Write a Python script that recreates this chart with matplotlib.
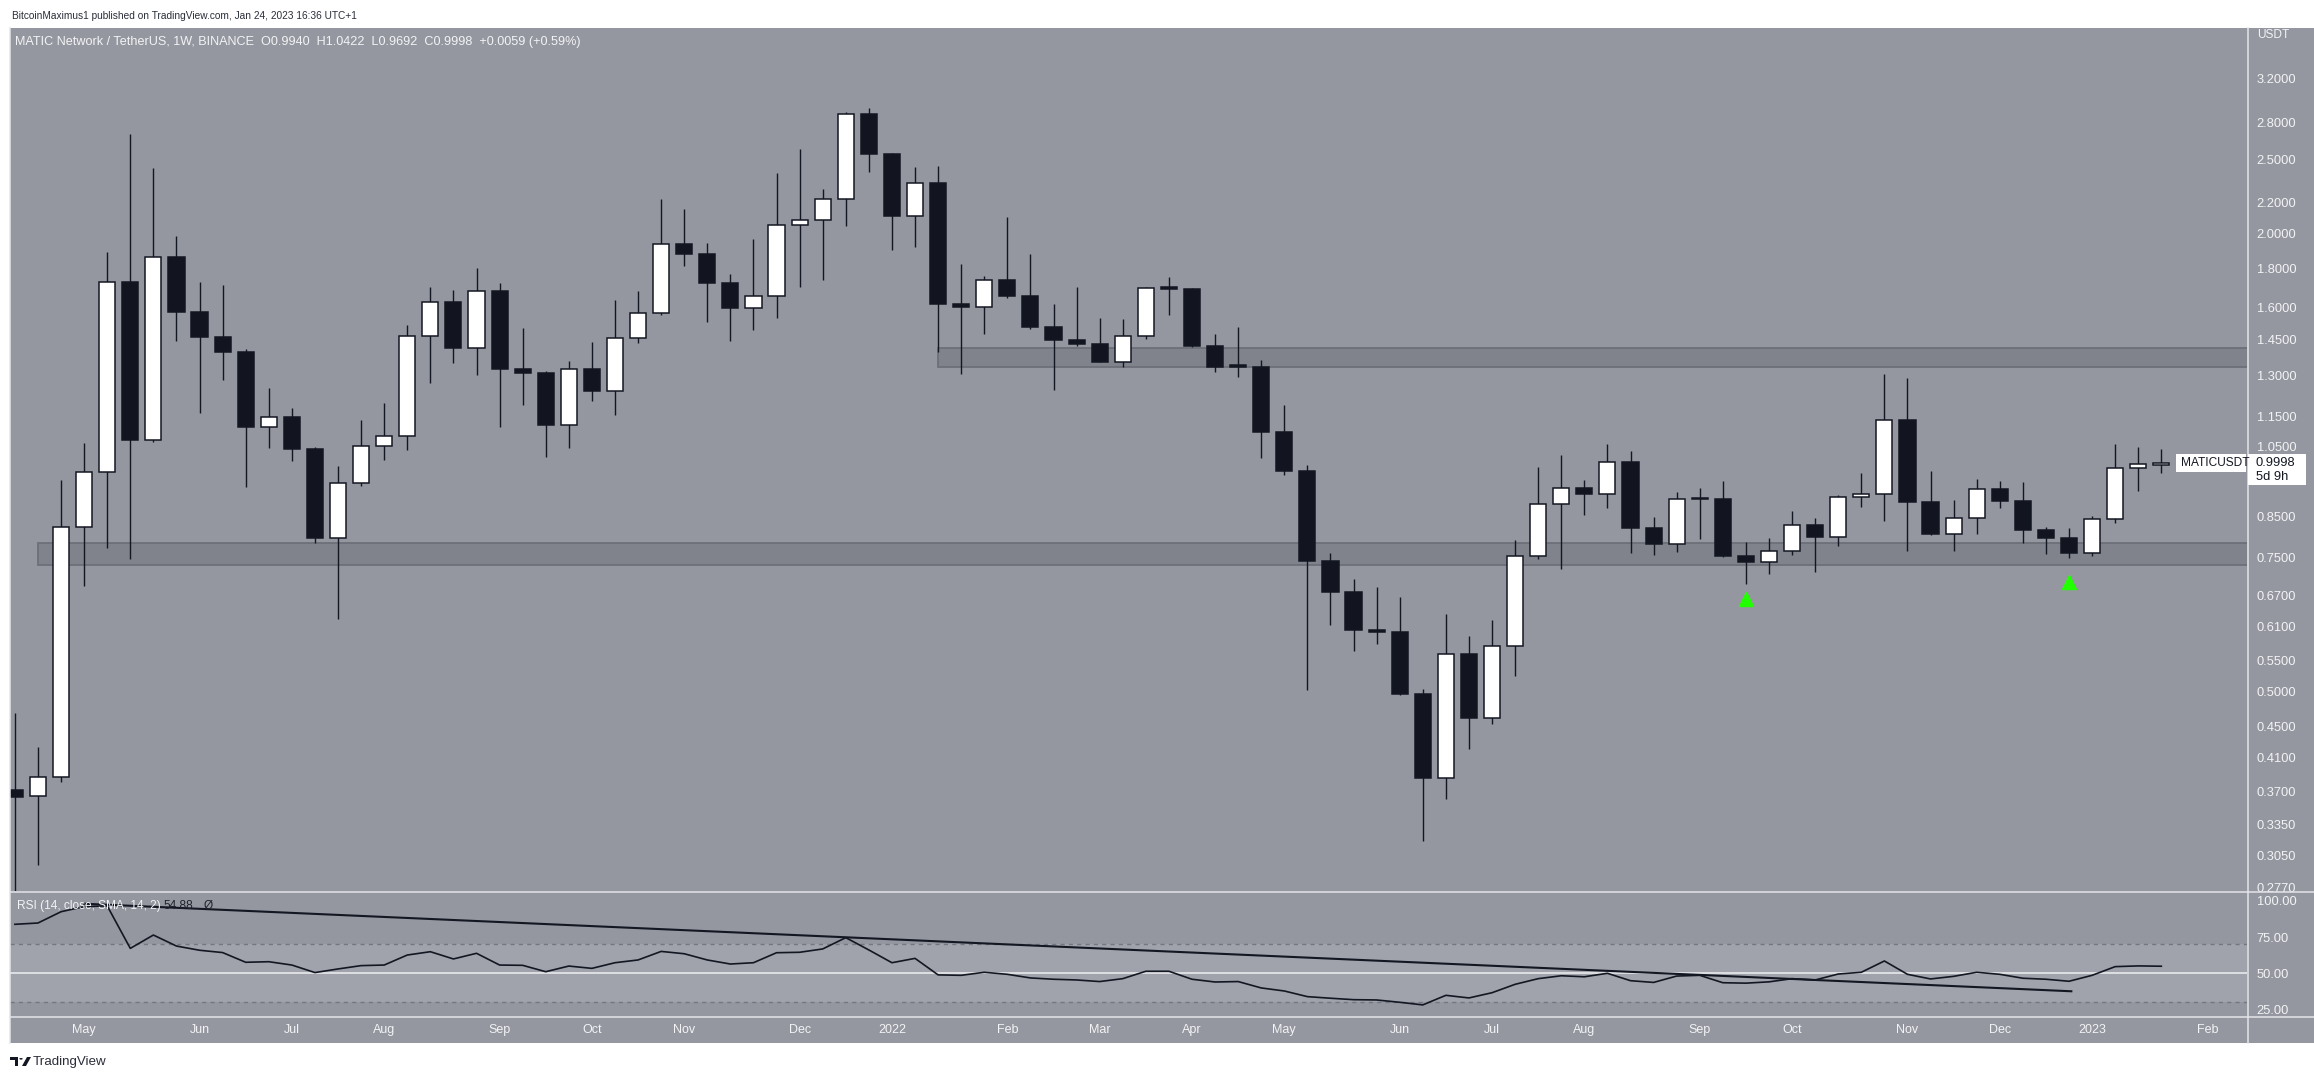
import numpy as np
import pandas as pd
import matplotlib
matplotlib.use("Agg")
import matplotlib.pyplot as plt
import matplotlib.dates as mdates
from matplotlib.patches import Rectangle, Polygon, Circle
from matplotlib.lines import Line2D
from matplotlib.ticker import FixedLocator, FixedFormatter, NullLocator

plt.rcParams['font.family'] = ['Liberation Sans', 'DejaVu Sans']

# ---------------- data ----------------
first_bar = "2021-04-12"   # weekly bars (Monday)
opens = [0.371, 0.365, 0.386, 0.822, 0.971, 1.726, 1.072, 1.865, 1.579, 1.464,
         1.399, 1.115, 1.147, 1.043, 0.795, 0.940, 1.051, 1.083, 1.466, 1.624,
         1.416, 1.681, 1.329, 1.313, 1.122, 1.326, 1.243, 1.457, 1.571, 1.936,
         1.882, 1.724, 1.598, 1.654, 2.050, 2.082, 2.218, 2.871, 2.546, 2.111,
         2.328, 1.618, 1.603, 1.736, 1.657, 1.509, 1.451, 1.433, 1.357, 1.466,
         1.700, 1.690, 1.425, 1.342, 1.335, 1.098, 0.976, 0.743, 0.677, 0.602,
         0.600, 0.497, 0.385, 0.560, 0.462, 0.574, 0.753, 0.882, 0.927, 0.909,
         1.001, 0.821, 0.783, 0.897, 0.895, 0.754, 0.741, 0.765, 0.828, 0.799,
         0.901, 0.910, 1.137, 0.889, 0.807, 0.845, 0.923, 0.891, 0.815, 0.795,
         0.762, 0.843, 0.983, 0.9940]
highs = [0.469, 0.423, 0.949, 1.061, 1.891, 2.702, 2.439, 1.985, 1.729, 1.712,
         1.410, 1.253, 1.180, 1.050, 0.990, 1.138, 1.198, 1.517, 1.703, 1.686,
         1.802, 1.722, 1.503, 1.318, 1.360, 1.441, 1.636, 1.682, 2.222, 2.154,
         1.944, 1.769, 1.967, 2.400, 2.583, 2.288, 2.889, 2.924, 2.550, 2.446,
         2.453, 1.826, 1.759, 2.103, 1.880, 1.616, 1.701, 1.549, 1.545, 1.700,
         1.754, 1.695, 1.476, 1.507, 1.363, 1.191, 0.993, 0.760, 0.703, 0.687,
         0.666, 0.505, 0.633, 0.592, 0.621, 0.792, 0.988, 1.024, 0.948, 1.058,
         1.036, 0.849, 0.914, 0.925, 0.946, 0.786, 0.796, 0.865, 0.845, 0.906,
         0.969, 1.308, 1.292, 0.974, 0.893, 0.951, 0.946, 0.942, 0.822, 0.820,
         0.850, 1.058, 1.049, 1.0422]
lows = [0.265, 0.296, 0.381, 0.689, 0.773, 0.748, 1.066, 1.446, 1.163, 1.285,
        0.930, 1.046, 1.006, 0.785, 0.624, 0.933, 1.009, 1.040, 1.274, 1.353,
        1.305, 1.115, 1.192, 1.018, 1.046, 1.206, 1.156, 1.438, 1.565, 1.815,
        1.532, 1.446, 1.495, 1.551, 1.703, 1.738, 2.048, 2.411, 1.905, 1.922,
        1.399, 1.309, 1.477, 1.645, 1.497, 1.247, 1.425, 1.355, 1.334, 1.452,
        1.565, 1.418, 1.316, 1.297, 1.015, 0.964, 0.503, 0.612, 0.566, 0.578,
        0.495, 0.318, 0.361, 0.420, 0.454, 0.524, 0.747, 0.726, 0.853, 0.873,
        0.762, 0.757, 0.764, 0.794, 0.752, 0.693, 0.715, 0.757, 0.719, 0.778,
        0.875, 0.839, 0.766, 0.803, 0.766, 0.807, 0.873, 0.785, 0.759, 0.750,
        0.753, 0.834, 0.919, 0.9692]
closes = [0.364, 0.386, 0.822, 0.971, 1.726, 1.072, 1.865, 1.579, 1.464, 1.399,
          1.115, 1.147, 1.043, 0.795, 0.940, 1.051, 1.083, 1.466, 1.624, 1.416,
          1.681, 1.329, 1.313, 1.122, 1.326, 1.243, 1.457, 1.571, 1.936, 1.882,
          1.724, 1.598, 1.654, 2.050, 2.082, 2.218, 2.871, 2.546, 2.111, 2.328,
          1.618, 1.603, 1.736, 1.657, 1.509, 1.451, 1.433, 1.357, 1.466, 1.695,
          1.690, 1.425, 1.337, 1.335, 1.098, 0.976, 0.743, 0.677, 0.602, 0.599,
          0.497, 0.385, 0.560, 0.462, 0.574, 0.753, 0.882, 0.927, 0.909, 1.001,
          0.821, 0.783, 0.897, 0.895, 0.754, 0.741, 0.765, 0.828, 0.799, 0.901,
          0.910, 1.137, 0.889, 0.807, 0.845, 0.923, 0.891, 0.815, 0.795, 0.762,
          0.843, 0.983, 0.995, 0.9998]
rsi = [83.8, 84.7, 92.5, 96.0, 96.5, 67.2, 76.4, 68.8, 65.9, 64.3,
       57.6, 58.0, 55.7, 50.5, 53.0, 55.3, 55.7, 62.6, 64.9, 59.9,
       63.8, 55.7, 55.5, 51.1, 55.0, 53.4, 57.3, 59.2, 65.1, 63.5,
       59.2, 56.4, 57.3, 64.2, 64.5, 66.8, 74.6, 66.1, 57.3, 60.3,
       48.9, 48.6, 50.7, 49.3, 46.8, 45.9, 45.4, 44.3, 46.3, 51.4,
       51.4, 45.9, 44.0, 44.3, 39.9, 37.8, 33.9, 32.8, 31.8, 31.6,
       30.0, 28.2, 34.8, 33.0, 36.6, 42.4, 46.3, 48.3, 47.6, 50.0,
       44.9, 43.7, 48.1, 48.6, 43.5, 43.2, 44.1, 46.3, 45.4, 49.5,
       50.7, 58.5, 49.3, 46.1, 47.9, 50.7, 49.3, 46.6, 45.9, 44.5,
       48.6, 54.6, 55.1, 54.88]

# horizontal zones: (first bar index, low, high)
support_zone = (1, 0.7332, 0.7836)
resistance_zone = (40, 1.3344, 1.4134)
# green signal triangles: bar index and price
signal_idx = [75, 89]
signal_price = [0.662, 0.697]
# RSI trendline endpoints (bar index, value)
trend_idx = [3.0, 89.1]
trend_val = [98.0, 37.6]

price_ticks = [3.2, 2.8, 2.5, 2.2, 2.0, 1.8, 1.6, 1.45, 1.3, 1.15, 1.05,
               0.85, 0.75, 0.67, 0.61, 0.55, 0.50, 0.45, 0.41, 0.37, 0.335, 0.305, 0.277]
price_labels = ["%.4f" % v for v in price_ticks]
rsi_ticks = [100, 75, 50, 25]
rsi_labels = ["100.00", "75.00", "50.00", "25.00"]
month_dates = ['2021-05-03', '2021-06-07', '2021-07-05', '2021-08-02', '2021-09-06',
               '2021-10-04', '2021-11-01', '2021-12-06', '2022-01-03', '2022-02-07',
               '2022-03-07', '2022-04-04', '2022-05-02', '2022-06-06', '2022-07-04',
               '2022-08-01', '2022-09-05', '2022-10-03', '2022-11-07', '2022-12-05',
               '2023-01-02', '2023-02-06']
month_labels = ['May', 'Jun', 'Jul', 'Aug', 'Sep', 'Oct', 'Nov', 'Dec', '2022', 'Feb',
                'Mar', 'Apr', 'May', 'Jun', 'Jul', 'Aug', 'Sep', 'Oct', 'Nov', 'Dec',
                '2023', 'Feb']

header = "BitcoinMaximus1 published on TradingView.com, Jan 24, 2023 16:36 UTC+1"
title = ("MATIC Network / TetherUS, 1W, BINANCE  O0.9940  H1.0422  L0.9692  "
         "C0.9998  +0.0059 (+0.59%)")

# ---------------- style ----------------
W, H = 2314, 1079
BG = '#94979f'
BAND = '#a0a3ab'
DARK = '#131722'
SEP = '#e3e5ea'
TXT = '#f2f3f5'
AXFS = 9.3


def fx(px):
    return px / W


def fy(py):
    return 1 - py / H


fig = plt.figure(figsize=(W / 100, H / 100), dpi=100, facecolor='white')

# gray chart background (incl. price axis column and time strip)
fig.patches.append(Rectangle((fx(10), fy(1043)), fx(W) - fx(10), fy(28) - fy(1043),
                             transform=fig.transFigure, facecolor=BG, edgecolor='none', zorder=-5))

dates = pd.date_range(first_bar, periods=len(closes), freq='7D')
x = mdates.date2num(dates)
step = 7.0
px_per_bar = 23.08
x_left = x[0] - (14.9 - 10) / px_per_bar * step
x_right = x_left + (2247 - 10) / px_per_bar * step

o = np.array(opens)
h = np.array(highs)
l = np.array(lows)
c = np.array(closes)

# ---------------- main pane ----------------
ax = fig.add_axes([fx(10), fy(891), fx(2247) - fx(10), fy(28) - fy(891)])
ax.set_facecolor(BG)
ax.set_yscale('log')
ax.set_xlim(x_left, x_right)
ax.set_ylim(0.2737, 3.724)
for s in ax.spines.values():
    s.set_visible(False)

for (i0, lo, hi) in [support_zone, resistance_zone]:
    ax.add_patch(Rectangle((x[i0], lo), x_right + 50 - x[i0], hi - lo,
                           facecolor='#80838b', edgecolor='#6d7078', linewidth=1.3, zorder=1))

ax.vlines(x, l, h, color=DARK, linewidth=1.0, zorder=2)
bull = c >= o
body_lo = np.minimum(o, c)
body_h = np.maximum(np.abs(c - o), body_lo * 0.004)
ax.bar(x[bull], body_h[bull], bottom=body_lo[bull], width=4.9, color='white',
       edgecolor=DARK, linewidth=1.1, zorder=3)
ax.bar(x[~bull], body_h[~bull], bottom=body_lo[~bull], width=4.9, color='#121520',
       edgecolor=DARK, linewidth=1.1, zorder=3)

ax.plot(x[signal_idx], signal_price, linestyle='none', marker='^', markersize=10,
        color='#22ff00', markeredgecolor='#22ff00', zorder=4)

ax.xaxis.set_major_locator(NullLocator())
ax.xaxis.set_minor_locator(NullLocator())
ax.yaxis.tick_right()
ax.yaxis.set_major_locator(FixedLocator(price_ticks))
ax.yaxis.set_major_formatter(FixedFormatter(price_labels))
ax.yaxis.set_minor_locator(NullLocator())
ax.tick_params(axis='y', length=0, pad=7.0, labelsize=AXFS, labelcolor=TXT)

# ---------------- RSI pane ----------------
ar = fig.add_axes([fx(10), fy(1016.2), fx(2247) - fx(10), fy(891.7) - fy(1016.2)])
ar.set_facecolor(BG)
ar.set_xlim(x_left, x_right)
ar.set_ylim(20.4, 106.3)
for s in ar.spines.values():
    s.set_visible(False)
ar.axhspan(30, 70, color=BAND, zorder=0, linewidth=0)
ar.axhline(70, color='#74777f', linewidth=1.0, dashes=(3, 3), zorder=1)
ar.axhline(30, color='#74777f', linewidth=1.0, dashes=(3, 3), zorder=1)
ar.axhline(50, color='#e8e9ed', linewidth=1.2, zorder=1)
ar.plot(x, rsi, color=DARK, linewidth=1.2, zorder=3)
tx = x[0] + np.array(trend_idx) * step
ar.plot(tx, trend_val, color=DARK, linewidth=1.5, zorder=2)
ar.xaxis.set_major_locator(NullLocator())
ar.xaxis.set_minor_locator(NullLocator())
ar.yaxis.tick_right()
ar.yaxis.set_major_locator(FixedLocator(rsi_ticks))
ar.yaxis.set_major_formatter(FixedFormatter(rsi_labels))
ar.tick_params(axis='y', length=0, pad=7.0, labelsize=AXFS, labelcolor=TXT)

fig.text(fx(17), fy(906), "RSI (14, close, SMA, 14, 2)", color=TXT, fontsize=8.6, va='center')
fig.text(fx(164), fy(906), "54.88", color='#1e222d', fontsize=8.6, va='center')
fig.text(fx(204), fy(906), "\u00d8", color='#1e222d', fontsize=8.6, va='center')

# ---------------- time strip ----------------
at = fig.add_axes([fx(10), fy(1043), fx(2247) - fx(10), fy(1016.2) - fy(1043)])
at.set_facecolor(BG)
at.set_xlim(x_left, x_right)
at.set_ylim(0, 1)
at.axis('off')
for d, lab in zip(month_dates, month_labels):
    at.text(mdates.date2num(pd.Timestamp(d)), 0.5, lab, ha='center', va='center',
            color=TXT, fontsize=9.0)

# ---------------- separators ----------------
for (x0, y0, x1, y1) in [(10, 891.5, W, 891.5), (10, 1016.5, W, 1016.5),
                         (2247.5, 28, 2247.5, 1043), (10, 28, 10, 1043)]:
    fig.lines.append(Line2D([fx(x0), fx(x1)], [fy(y0), fy(y1)], transform=fig.transFigure,
                            color=SEP, linewidth=1.1, zorder=5))

# ---------------- texts ----------------
fig.text(fx(12), fy(16), header, color='#2a2e39', fontsize=7.3, va='center')
fig.text(fx(15), fy(42), title, color=TXT, fontsize=9.1, va='center')
fig.text(fx(2257), fy(35), "USDT", color=TXT, fontsize=8.6, va='center')

# last price labels
fig.canvas.draw()
yp = ax.transData.transform((x[-1], closes[-1]))[1]
ypx = H - yp
fig.patches.append(Rectangle((fx(2176), fy(ypx + 9)), fx(2246) - fx(2176), fy(ypx - 9) - fy(ypx + 9),
                             transform=fig.transFigure, facecolor='white', edgecolor='none', zorder=6))
fig.text(fx(2181), fy(ypx), "MATICUSDT", color=DARK, fontsize=8.6, va='center', zorder=7)
fig.patches.append(Rectangle((fx(2248), fy(ypx + 22)), fx(2306) - fx(2248), fy(ypx - 9) - fy(ypx + 22),
                             transform=fig.transFigure, facecolor='white', edgecolor='none', zorder=6))
fig.text(fx(2256), fy(ypx), "%.4f" % closes[-1], color=DARK, fontsize=AXFS, va='center', zorder=7)
fig.text(fx(2256), fy(ypx + 14), "5d 9h", color=DARK, fontsize=AXFS, va='center', zorder=7)

# ---------------- TradingView logo ----------------
logo_col = '#131722'
fig.patches.append(Rectangle((fx(10), fy(1060)), fx(18) - fx(10), fy(1057) - fy(1060),
                             transform=fig.transFigure, facecolor=logo_col, edgecolor='none'))
fig.patches.append(Rectangle((fx(15), fy(1066)), fx(18) - fx(15), fy(1057) - fy(1066),
                             transform=fig.transFigure, facecolor=logo_col, edgecolor='none'))
fig.patches.append(Circle((fx(21), fy(1058.8)), 1.7 / W, transform=fig.transFigure,
                          facecolor=logo_col, edgecolor='none'))
fig.patches.append(Polygon([(fx(22), fy(1066)), (fx(26), fy(1066)), (fx(31), fy(1057)), (fx(27), fy(1057))],
                           closed=True, transform=fig.transFigure, facecolor=logo_col, edgecolor='none'))
fig.text(fx(33), fy(1061.5), "TradingView", color='#2a2e39', fontsize=9.6, va='center')

fig.savefig("out.png", dpi=100, facecolor='white')
